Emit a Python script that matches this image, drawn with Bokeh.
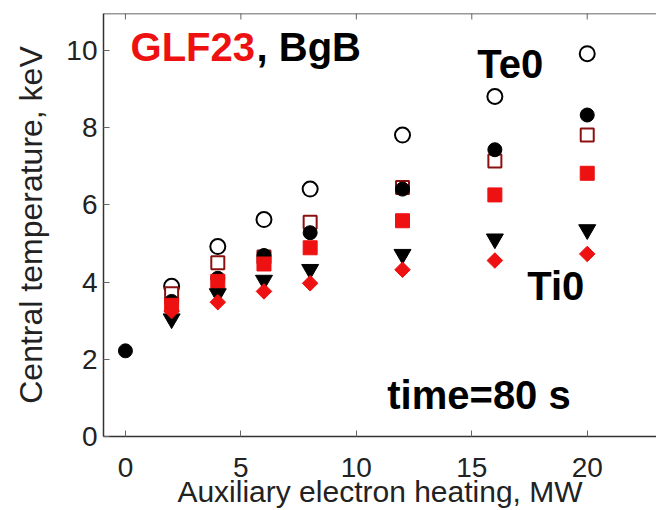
from bokeh.plotting import figure
from bokeh.models import FixedTicker, Range1d, Span
from bokeh.core.properties import value
from bokeh.embed import file_html
from bokeh.resources import INLINE
import numpy as np

# ---- data ----
x_ticks = [0, 5, 10, 15, 20]
y_ticks = [0, 2, 4, 6, 8, 10]

p_open_circle = [2, 4, 6, 8, 12, 16, 20]
t_open_circle = [3.89, 4.92, 5.62, 6.41, 7.81, 8.81, 9.92]

p_open_square = [2, 4, 6, 8, 12, 16, 20]
t_open_square = [3.70, 4.50, 4.65, 5.55, 6.45, 7.14, 7.81]

p_black_circle = [0, 2, 4, 6, 8, 12, 16, 20]
t_black_circle = [2.22, 3.50, 4.10, 4.69, 5.28, 6.41, 7.43, 8.33]

p_red_square = [2, 4, 6, 8, 12, 16, 20]
t_red_square = [3.40, 4.02, 4.47, 4.89, 5.59, 6.26, 6.82]

p_black_tri = [2, 4, 6, 8, 12, 16, 20]
t_black_tri = [3.05, 3.70, 4.05, 4.33, 4.72, 5.12, 5.36]

p_red_diamond = [2, 4, 6, 8, 12, 16, 20]
t_red_diamond = [3.25, 3.48, 3.76, 3.97, 4.32, 4.56, 4.73]

X_MIN, X_MAX = -0.95, 23.0
Y_MIN, Y_MAX = 0.0, 10.96

RED = "#ee1111"
FONT = "Liberation Sans"

p = figure(width=656, height=510,
           x_range=Range1d(X_MIN, X_MAX), y_range=Range1d(Y_MIN, Y_MAX),
           output_backend="svg", toolbar_location=None,
           min_border_left=103, min_border_top=13, min_border_right=0,
           min_border_bottom=0)
p.xgrid.visible = False
p.ygrid.visible = False
p.outline_line_color = None
p.background_fill_color = "white"
p.border_fill_color = "white"

for ax in (p.xaxis[0], p.yaxis[0]):
    ax.axis_line_color = "#333333"
    ax.axis_line_width = 1.5
    ax.major_tick_in = 6
    ax.major_tick_out = 0
    ax.minor_tick_in = 0
    ax.minor_tick_out = 0
    ax.major_tick_line_color = "#666666"
    ax.major_label_text_font = FONT
    ax.major_label_text_font_size = "28px"
    ax.major_label_text_color = "#222222"
    ax.axis_label_text_font = FONT
    ax.axis_label_text_font_style = "normal"
    ax.axis_label_text_color = "#222222"

p.xaxis[0].ticker = FixedTicker(ticks=x_ticks)
p.yaxis[0].ticker = FixedTicker(ticks=y_ticks)
p.xaxis[0].axis_label = "Auxiliary electron heating, MW"
p.yaxis[0].axis_label = "Central temperature, keV"
p.xaxis[0].axis_label_text_font_size = "30px"
p.yaxis[0].axis_label_text_font_size = "32px"
p.xaxis[0].major_label_standoff = 21
p.xaxis[0].axis_label_standoff = -5
p.yaxis[0].major_label_standoff = 6
p.yaxis[0].axis_label_standoff = 14

# top frame line with inward ticks (no labels)
p.add_layout(Span(location=Y_MAX, dimension="width",
                  line_color="#333333", line_width=1.5))
p.ray(x=x_ticks, y=[Y_MAX] * len(x_ticks), length=6, length_units="screen",
      angle=-np.pi / 2, line_color="#666666", line_width=1)

# markers
p.scatter(p_open_circle, t_open_circle, marker="circle", size=15,
          fill_color=None, line_color="black", line_width=2)
p.scatter(p_open_square, t_open_square, marker="square", size=13,
          fill_color="white", line_color="#8b1010", line_width=2)
p.scatter(p_black_circle, t_black_circle, marker="circle", size=14,
          fill_color="black", line_color="black")
p.scatter(p_red_square, t_red_square, marker="square", size=14,
          fill_color=RED, line_color=RED)
p.scatter(p_black_tri, t_black_tri, marker="inverted_triangle", size=17,
          fill_color="black", line_color="black")
p.scatter(p_red_diamond, t_red_diamond, marker="square", size=11,
          angle=np.pi / 4, fill_color=RED, line_color=RED)

# annotations
def txt(x, y, s, color="black", xoff=0):
    p.text(x=[x], y=[y], text=[s], text_font=value(FONT),
           text_font_size=value("40px"), text_font_style="bold",
           text_color=color, text_align="left", text_baseline="middle",
           x_offset=xoff)

txt(0.22, 10.08, "GLF23", RED)
txt(0.22, 10.08, ", BgB", "black", xoff=126)
txt(15.24, 9.66, "Te0")
txt(17.4, 3.89, "Ti0")
txt(11.34, 1.085, "time=80 s")

open("out.html", "w").write(file_html(p, INLINE))
